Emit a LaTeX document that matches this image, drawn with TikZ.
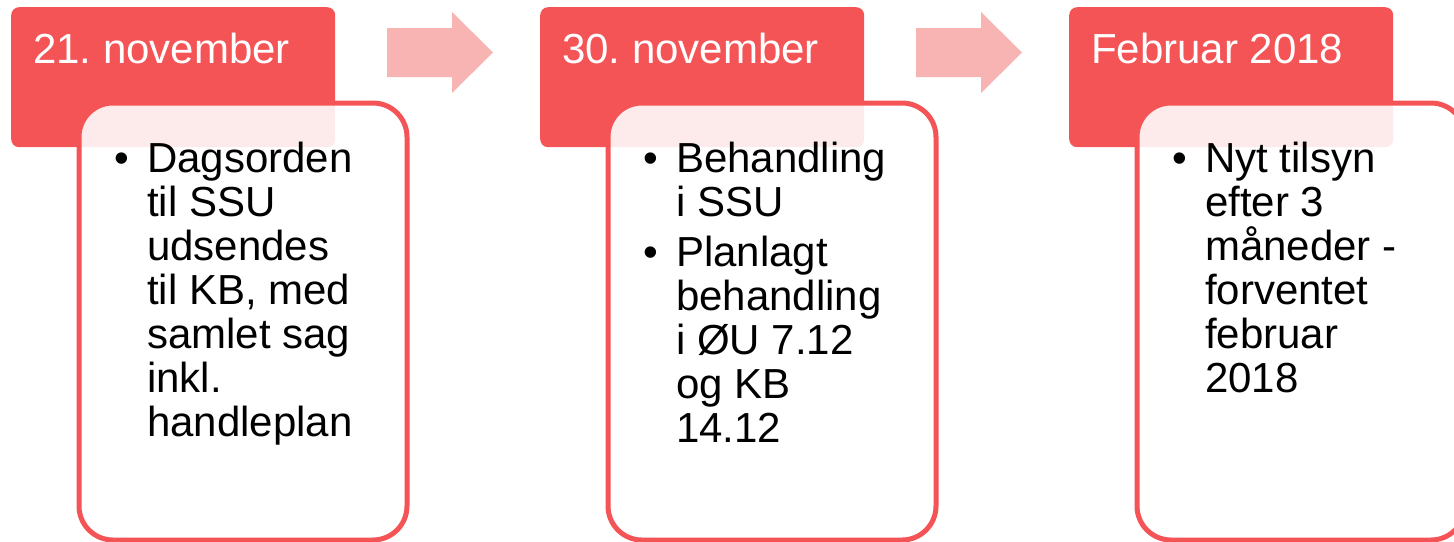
\documentclass[tikz,border=0pt]{standalone}
\usepackage{fontspec}
\setmainfont{Liberation Sans}
\frenchspacing
\definecolor{hdr}{RGB}{244,84,86}
\definecolor{arr}{RGB}{248,180,179}
\tikzset{
  hdrbox/.style={fill=hdr, rounded corners=8pt, minimum width=324pt, minimum height=140pt, anchor=north west, inner sep=0pt},
  bodybox/.style={draw=hdr, line width=5pt, fill=white, fill opacity=0.88, rounded corners=34pt, minimum width=328pt, minimum height=437pt, anchor=north west, inner sep=0pt},
  hdrtext/.style={text=white, font=\fontsize{42}{44}\selectfont\frenchspacing, anchor=base west, inner sep=0pt},
  bodytext/.style={text=black, font=\fontsize{42}{44}\selectfont\frenchspacing, anchor=base west, inner sep=0pt, align=left},
  flowarrow/.style={fill=arr}
}
\newcommand{\bul}{\llap{•\hspace{18pt}}}
\begin{document}
\begin{tikzpicture}[x=1pt,y=-1pt]
\useasboundingbox (0,0) rectangle (1454,541);
\clip (0,0) rectangle (1454,541);
% headers
\node[hdrbox] (h1) at (11,7) {};
\node[hdrbox] (h2) at (540,7) {};
\node[hdrbox] (h3) at (1069,7) {};
% body boxes
\node[bodybox] (b1) at (76.5,100.5) {};
\node[bodybox] (b2) at (605.5,100.5) {};
\node[bodybox] (b3) at (1134.5,100.5) {};
% arrows
\foreach \dx in {0,529}{
  \fill[flowarrow] (387+\dx,28) -- (452+\dx,28) -- (452+\dx,12) -- (493+\dx,52.5)
    -- (452+\dx,93) -- (452+\dx,77) -- (387+\dx,77) -- cycle;
}
% header texts
\node[hdrtext] (t1) at (33,63) {21. november};
\node[hdrtext] (t2) at (562,63) {30. november};
\node[hdrtext] (t3) at (1091,63) {Februar 2018};
% body texts (anchored at the baseline of the last line)
\node[bodytext] (c1) at (147,436) {\bul Dagsorden\\til SSU\\udsendes\\til KB, med\\samlet sag\\inkl.\\handleplan};
\node[bodytext] (c2) at (676,442) {\bul Behandling\\i SSU\\[6pt]\bul Planlagt\\behandling\\i ØU 7.12\\og KB\\14.12};
\node[bodytext] (c3) at (1205,392) {\bul Nyt tilsyn\\efter 3\\måneder -\\forventet\\februar\\2018};
\end{tikzpicture}
\end{document}
